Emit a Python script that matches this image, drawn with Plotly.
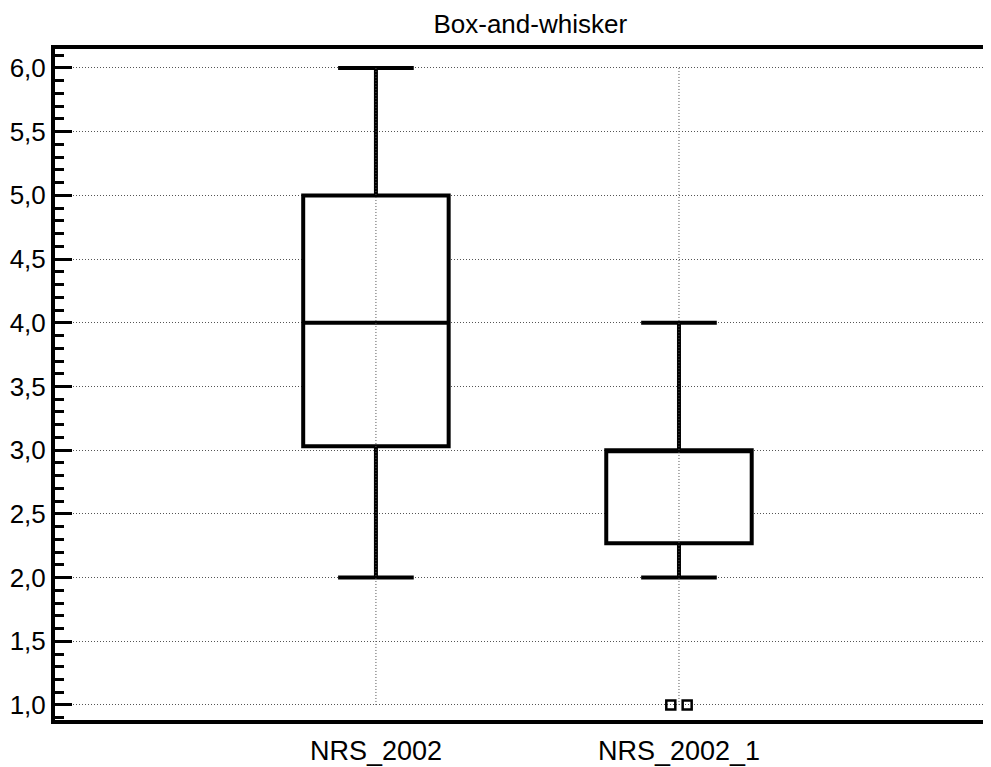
import plotly.graph_objects as go

categories = ["NRS_2002", "NRS_2002_1"]
q1 = [3.03, 2.27]
median = [4.0, 3.0]
q3 = [5.0, 3.0]
lower = [2.0, 2.0]
upper = [6.0, 4.0]
outlier_cat = [1, 1]
outlier_offset = [-0.027, 0.027]
outlier_val = [1.0, 1.0]
y_ticks = [1.0, 1.5, 2.0, 2.5, 3.0, 3.5, 4.0, 4.5, 5.0, 5.5, 6.0]
y_labels = [f"{v:.1f}".replace(".", ",") for v in y_ticks]

GRID = "#555555"
DOT = "1px,2px"

fig = go.Figure()

# vertical grid lines at categories spanning the tick range
for i in range(len(categories)):
    fig.add_trace(go.Scatter(x=[i, i], y=[min(y_ticks), max(y_ticks)], mode="lines",
                             line=dict(color=GRID, width=1, dash=DOT),
                             hoverinfo="skip", showlegend=False))

for i, c in enumerate(categories):
    fig.add_trace(go.Box(
        x=[i], q1=[q1[i]], median=[median[i]], q3=[q3[i]],
        lowerfence=[lower[i]], upperfence=[upper[i]],
        name=c, width=0.48, whiskerwidth=0.52,
        line=dict(color="black", width=4), fillcolor="white",
        boxpoints=False, showlegend=False))

fig.add_trace(go.Scatter(
    x=[c + o for c, o in zip(outlier_cat, outlier_offset)], y=outlier_val,
    mode="markers",
    marker=dict(symbol="square-open", size=9, color="black", line=dict(width=2.5, color="black")),
    showlegend=False))

fig.update_layout(
    width=991, height=767,
    paper_bgcolor="white", plot_bgcolor="white",
    margin=dict(l=47, r=0, t=41, b=55),
    title=dict(text="Box-and-whisker", x=0.527, xanchor="center", y=0.979, yanchor="middle",
               font=dict(family="Liberation Sans, Arial", size=26, color="black")),
    font=dict(family="Liberation Sans, Arial", color="black"),
)

fig.update_xaxes(
    range=[-1.059, 2.056], tickmode="array", tickvals=list(range(len(categories))),
    ticktext=categories, tickfont=dict(size=27), ticks="", showgrid=False,
    ticklabelstandoff=4,
    showline=True, linewidth=4, linecolor="black", mirror=True, zeroline=False,
)
fig.update_yaxes(
    range=[0.882, 6.149], tickmode="array", tickvals=y_ticks, ticktext=y_labels,
    tickfont=dict(size=26), ticks="inside", ticklen=17, tickwidth=3, tickcolor="black",
    showgrid=True, gridcolor=GRID, gridwidth=1, griddash=DOT,
    minor=dict(dtick=0.1, tick0=1.0, ticks="inside", ticklen=9, tickwidth=3, tickcolor="black", showgrid=False),
    showline=True, linewidth=4, linecolor="black", mirror=False, zeroline=False,
)

fig.write_html("out.html")
